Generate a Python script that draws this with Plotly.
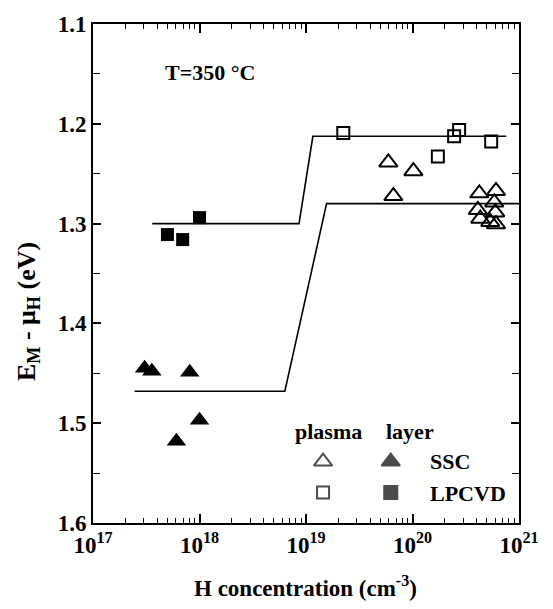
import plotly.graph_objects as go

# ---- data ----
ssc_layer_x = [3.05e17, 3.57e17, 8.1e17, 1.0e18, 6.07e17]
ssc_layer_y = [1.445, 1.448, 1.449, 1.497, 1.518]

lpcvd_layer_x = [5.0e17, 6.95e17, 1.0e18]
lpcvd_layer_y = [1.311, 1.316, 1.294]

lpcvd_plasma_x = [2.24e19, 2.74e20, 2.46e20, 1.73e20, 5.48e20]
lpcvd_plasma_y = [1.2093, 1.2061, 1.2125, 1.2328, 1.2178]

ssc_plasma_x = [5.93e19, 1.02e20, 6.61e19, 4.24e20, 6.08e20, 5.86e20, 4.11e20,
                5.99e20, 4.33e20, 5.37e20, 6.08e20]
ssc_plasma_y = [1.2387, 1.2475, 1.2724, 1.2697, 1.2673, 1.2788, 1.2863,
                1.2888, 1.2951, 1.2983, 1.3006]

upper_fit_x = [3.6e17, 8.6e18, 1.16e19, 7.6e20]
upper_fit_y = [1.300, 1.300, 1.2125, 1.2125]

lower_fit_x = [2.46e17, 6.33e18, 1.56e19, 1.0e21]
lower_fit_y = [1.468, 1.468, 1.280, 1.280]

x_tick_vals = [1e17, 1e18, 1e19, 1e20, 1e21]
x_tick_text = ["10<sup>17</sup>", "10<sup>18</sup>", "10<sup>19</sup>",
               "10<sup>20</sup>", "10<sup>21</sup>"]
y_tick_vals = [1.1, 1.2, 1.3, 1.4, 1.5, 1.6]
y_tick_text = ["1.1", "1.2", "1.3", "1.4", "1.5", "1.6"]

# legend key layout (paper-like overlay frame 0..1)
legend_sym_x = [0.540, 0.699, 0.540, 0.699]
legend_sym_y = [0.123, 0.123, 0.061, 0.061]
legend_symbols = ["triangle-up-open", "triangle-up", "square-open", "square"]

FONT = "Liberation Serif"
BLACK = "black"

fig = go.Figure()

fig.add_trace(go.Scatter(x=upper_fit_x, y=upper_fit_y, mode="lines",
                         line=dict(color=BLACK, width=1.6), hoverinfo="skip"))
fig.add_trace(go.Scatter(x=lower_fit_x, y=lower_fit_y, mode="lines",
                         line=dict(color=BLACK, width=1.6), hoverinfo="skip"))

fig.add_trace(go.Scatter(x=ssc_plasma_x, y=ssc_plasma_y, mode="markers",
                         marker=dict(symbol="triangle-up-open", size=16, color=BLACK,
                                     line=dict(width=2, color=BLACK))))
fig.add_trace(go.Scatter(x=lpcvd_plasma_x, y=lpcvd_plasma_y, mode="markers",
                         marker=dict(symbol="square-open", size=12, color=BLACK,
                                     line=dict(width=2, color=BLACK))))
fig.add_trace(go.Scatter(x=ssc_layer_x, y=ssc_layer_y, mode="markers",
                         marker=dict(symbol="triangle-up", size=17, color=BLACK,
                                     line=dict(width=0))))
fig.add_trace(go.Scatter(x=lpcvd_layer_x, y=lpcvd_layer_y, mode="markers",
                         marker=dict(symbol="square", size=13, color=BLACK,
                                     line=dict(width=0))))

# legend keys
fig.add_trace(go.Scatter(x=legend_sym_x, y=legend_sym_y, mode="markers",
                         xaxis="x2", yaxis="y2", hoverinfo="skip",
                         marker=dict(symbol=legend_symbols, size=[16, 16, 12, 13],
                                     color=BLACK, line=dict(width=2, color=BLACK))))

axis_common = dict(showline=True, linecolor=BLACK, linewidth=2, mirror="ticks",
                   ticks="inside", tickcolor=BLACK, tickwidth=1.5, showgrid=False,
                   zeroline=False,
                   tickfont=dict(family=FONT, size=23, color=BLACK, weight="bold"))

fig.update_layout(
    width=553, height=609,
    margin=dict(l=93, r=34, t=12, b=86),
    paper_bgcolor="white", plot_bgcolor="white",
    showlegend=False,
    xaxis=dict(type="log", range=[17, 21], tickvals=x_tick_vals, ticktext=x_tick_text,
               ticklen=9,
               minor=dict(ticks="inside", ticklen=5, tickwidth=1.2, tickcolor=BLACK,
                          dtick="D1", showgrid=False),
               **axis_common),
    yaxis=dict(range=[1.6, 1.1], tickvals=y_tick_vals, ticktext=y_tick_text,
               ticklen=8,
               minor=dict(ticks="inside", ticklen=7, tickwidth=1.2, tickcolor=BLACK,
                          dtick=0.05, showgrid=False),
               **axis_common),
    xaxis2=dict(range=[0, 1], overlaying="x", visible=False),
    yaxis2=dict(range=[0, 1], overlaying="y", visible=False),
)

def txt(x, y, s, size=22, xanchor="center", yanchor="middle", angle=0):
    fig.add_annotation(x=x, y=y, xref="paper", yref="paper", text=s, showarrow=False,
                       xanchor=xanchor, yanchor=yanchor, textangle=angle,
                       font=dict(family=FONT, size=size, color=BLACK, weight="bold"))

txt(0.165, 0.903, "T=350 °C", xanchor="left")
txt(0.552, 0.184, "plasma")
txt(0.744, 0.184, "layer")
txt(0.786, 0.123, "SSC", xanchor="left")
txt(0.786, 0.059, "LPCVD", xanchor="left")

# axis titles
txt((305 - 93) / 426, (523 - 588) / 511, "H concentration (cm<sup>-3</sup>)", size=23)
txt((28 - 93) / 426, (523 - 307) / 511,
    "E<sub>M</sub> - μ<sub>H</sub> (eV)", size=26, angle=-90)

fig.write_html("out.html", config={"displayModeBar": False},
               post_script="document.body.style.margin='0px';")
